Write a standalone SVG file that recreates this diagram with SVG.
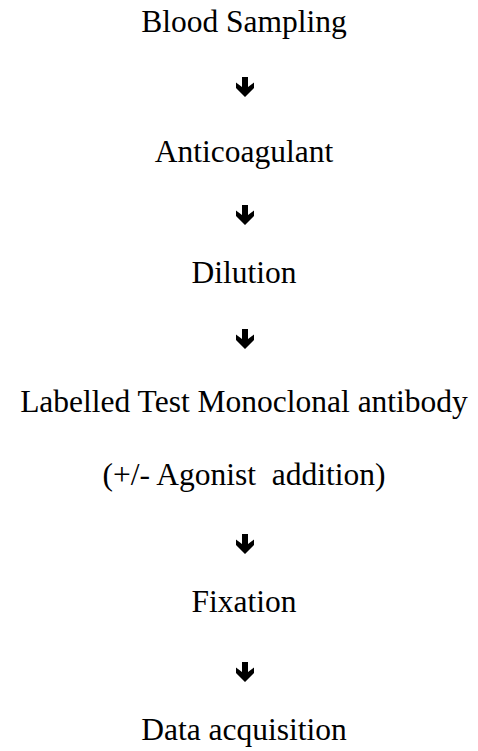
<svg xmlns="http://www.w3.org/2000/svg" width="478" height="751" viewBox="0 0 478 751">
<style>
text{font-family:"Liberation Serif","Times New Roman",serif;font-size:31.5px;fill:#000;text-anchor:middle;white-space:pre}
.arr{fill:#000}
</style>
<defs>
<path id="dn" d="M-3,0 H3 V10 L9,5.5 V11 L0,20 L-9,11 V5.5 L-3,10 Z"/>
</defs>
<rect width="478" height="751" fill="#fff"/>
<g id="n1"><text x="244" y="32">Blood Sampling</text></g>
<g id="n2"><text x="244" y="162">Anticoagulant</text></g>
<g id="n3"><text x="244" y="283">Dilution</text></g>
<g id="n4"><text x="244" y="412">Labelled Test Monoclonal antibody</text><text x="244" y="485" xml:space="preserve">(+/- Agonist  addition)</text></g>
<g id="n5"><text x="244" y="612">Fixation</text></g>
<g id="n6"><text x="244" y="740">Data acquisition</text></g>
<g id="connectors" class="arr">
<use href="#dn" x="245" y="77"/>
<use href="#dn" x="245" y="205"/>
<use href="#dn" x="245" y="329"/>
<use href="#dn" x="245" y="534"/>
<use href="#dn" x="245" y="662"/>
</g>
</svg>
